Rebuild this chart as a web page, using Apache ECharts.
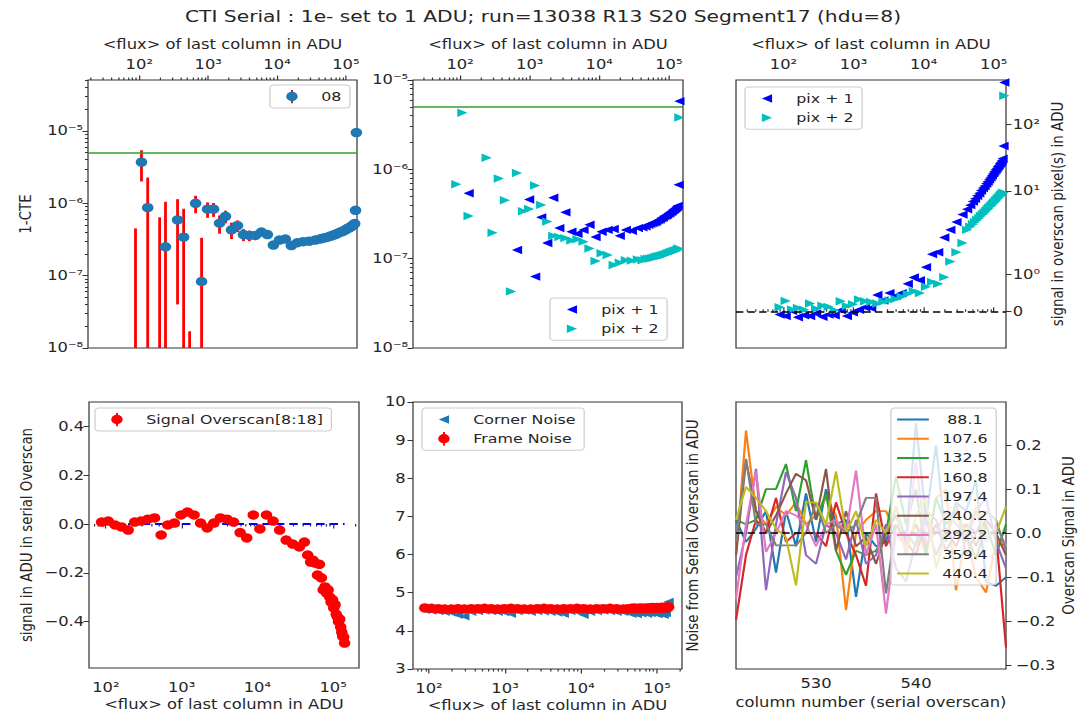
<!DOCTYPE html>
<html><head><meta charset="utf-8">
<script src="https://cdn.jsdelivr.net/npm/echarts@6/dist/echarts.min.js"></script>
<style>
html,body{margin:0;padding:0;background:#fff;overflow:hidden}
#wrap{width:1086px;height:714px;overflow:hidden;position:relative;background:#fff}
#chart{position:absolute;left:0;top:0;height:714px;transform-origin:0 0}
</style></head><body>
<div id="wrap"><div id="chart"></div></div>
<script>
// ---------------- DATA ----------------
const TITLE = 'CTI Serial : 1e- set to 1 ADU; run=13038 R13 S20 Segment17 (hdu=8)';
const FLUX = [88.1,107.6,132.5,160.8,197.4,240.2,292.2,359.4,440.4,538.1,
  657.3,802.8,980.6,1197.7,1462.9,1786.9,2182.6,2666.0,3256.4,3977.5,
  4858.4,5934.3,7248.5,8853.7,10814,13209,16134,19707,24071,29402,
  35913,41800,46300,50600,54200,58100,62300,66000,70200,74100,
  78300,82200,86100,90400,94200,98300,102100,106400,110200,114300,
  118100,122400,126200,130300,134100,138200,142000];
// 1-CTE of segment 08 and its error
const CTE_08 = [-1.0e-6,3.7e-6,8.7e-7,-1.5e-6,-4.0e-7,2.5e-7,-9.0e-7,5.9e-7,3.4e-7,-4.5e-7,
  1.0e-6,8.3e-8,8.3e-7,8.3e-7,5.3e-7,6.6e-7,4.3e-7,4.9e-7,3.7e-7,3.6e-7,
  3.6e-7,4.0e-7,3.7e-7,2.65e-7,3.1e-7,3.2e-7,2.6e-7,2.85e-7,2.95e-7,3.0e-7,
  3.1e-7,3.2e-7,3.3e-7,3.35e-7,3.4e-7,3.5e-7,3.55e-7,3.65e-7,3.7e-7,3.8e-7,
  3.9e-7,3.95e-7,4.05e-7,4.1e-7,4.2e-7,4.3e-7,4.4e-7,4.5e-7,4.55e-7,4.65e-7,
  4.75e-7,4.85e-7,4.95e-7,5.1e-7,5.25e-7,8.0e-7,9.5e-6];
const CTE_08_ERR = [1.45e-6,1.7e-6,1.4e-6,1.2e-6,1.04e-6,8.0e-7,6.0e-7,5.5e-7,5.0e-7,4.67e-7,
  2.7e-7,2.5e-7,2.0e-7,1.8e-7,1.5e-7,1.3e-7,1.1e-7,9e-8,7e-8,6e-8,
  5e-8,4e-8,3.5e-8,3e-8,2.5e-8,2e-8,1.8e-8,1.5e-8,1.3e-8,1.1e-8,
  1e-8,9e-9,8.5e-9,8e-9,7.5e-9,7e-9,7e-9,6.5e-9,6.5e-9,6e-9,
  6e-9,5.5e-9,5.5e-9,5e-9,5e-9,5e-9,4.5e-9,4.5e-9,4.5e-9,4e-9,
  4e-9,4e-9,4e-9,3.5e-9,3.5e-9,8e-9,2e-8];
const CTE_PIX1 = [null,null,5.4e-7,null,null,null,null,null,null,null,
  1.25e-7,null,4.6e-7,6.3e-8,2.9e-7,1.5e-7,4.8e-7,2.2e-7,3.3e-7,2.0e-7,
  1.9e-7,2.1e-7,2.4e-7,1.75e-7,2.0e-7,2.1e-7,2.15e-7,1.8e-7,2.1e-7,2.05e-7,
  2.2e-7,2.25e-7,2.3e-7,2.4e-7,2.45e-7,2.5e-7,2.55e-7,2.6e-7,2.7e-7,2.75e-7,
  2.85e-7,2.9e-7,3.0e-7,3.05e-7,3.1e-7,3.2e-7,3.25e-7,3.35e-7,3.4e-7,3.5e-7,
  3.55e-7,3.65e-7,3.7e-7,3.8e-7,3.9e-7,6.7e-7,5.8e-6];
const CTE_PIX2 = [6.8e-7,4.3e-6,3.0e-7,null,null,1.35e-6,1.95e-7,7.9e-7,4.5e-7,4.3e-8,
  9.1e-7,3.4e-7,3.6e-7,6.6e-7,4.0e-7,2.6e-7,1.8e-7,1.75e-7,1.7e-7,1.6e-7,
  1.65e-7,1.55e-7,1.3e-7,9.4e-8,1.15e-7,1.1e-7,8.5e-8,9.0e-8,9.6e-8,9.5e-8,
  9.8e-8,9.6e-8,9.9e-8,1.0e-7,1.0e-7,1.02e-7,1.03e-7,1.05e-7,1.06e-7,1.07e-7,
  1.08e-7,1.1e-7,1.1e-7,1.12e-7,1.13e-7,1.15e-7,1.16e-7,1.18e-7,1.19e-7,1.2e-7,
  1.21e-7,1.22e-7,1.23e-7,1.24e-7,1.26e-7,1.3e-7,3.8e-6];
// signal (ADU) in first / second overscan pixel
const SIG_PIX1 = [-0.08,-0.12,0.02,-0.15,-0.1,-0.12,-0.05,-0.14,-0.08,-0.1,
  0.04,-0.12,-0.02,0.05,0.12,0.1,0.45,0.3,0.5,0.42,
  0.5,0.75,0.92,0.85,1.2,1.55,1.6,2.0,2.6,3.4,
  4.4,5.3,6.1,6.9,7.6,8.4,9.2,10.1,11.0,11.8,
  12.9,13.8,14.9,16.0,17.1,18.3,19.4,20.7,21.8,23.1,
  24.2,25.6,26.8,28.1,30.2,47,420];
const SIG_PIX2 = [0.12,0.29,0.06,0.1,0.05,0.22,0.08,0.16,0.13,0.04,
  0.28,0.15,0.2,0.33,0.28,0.26,0.22,0.27,0.3,0.34,
  0.4,0.48,0.55,0.5,0.67,0.8,0.75,0.93,1.35,1.6,
  1.85,2.6,2.9,3.15,3.4,3.65,3.9,4.2,4.45,4.7,
  5.0,5.3,5.55,5.85,6.1,6.4,6.7,7.0,7.3,7.6,
  7.9,8.2,8.5,8.8,9.1,9.4,265];
const OVERSCAN_SIGNAL = [0.008,0.012,-0.004,-0.012,-0.025,0.008,0.012,0.02,0.025,-0.045,
  -0.004,0.004,0.037,0.049,0.037,0.004,-0.016,0.004,0.025,0.02,
  0.008,-0.035,-0.057,0.037,-0.02,0.037,0.012,-0.025,-0.066,-0.082,
  -0.094,-0.074,-0.127,-0.156,-0.148,-0.16,-0.209,-0.165,-0.221,-0.27,
  -0.258,-0.283,-0.27,-0.3,-0.32,-0.31,-0.344,-0.33,-0.37,-0.381,
  -0.4,-0.39,-0.422,-0.443,-0.46,-0.463,-0.488];
const ZERO_REF_FLUX = [197.4,142000];
const CORNER_NOISE = [4.55,4.53,4.52,4.50,4.48,4.42,4.38,4.50,4.52,4.53,
  4.52,4.50,4.49,4.45,4.52,4.53,4.50,4.52,4.51,4.50,
  4.48,4.45,4.52,4.50,4.42,4.50,4.52,4.53,4.52,4.50,
  4.50,4.48,4.45,4.47,4.44,4.50,4.46,4.52,4.48,4.45,
  4.50,4.47,4.52,4.49,4.46,4.50,4.44,4.48,4.52,4.45,
  4.50,4.42,4.55,4.47,4.62,4.70,4.76];
const FRAME_NOISE = [4.60,4.59,4.58,4.57,4.57,4.58,4.57,4.58,4.58,4.59,
  4.58,4.57,4.58,4.59,4.58,4.57,4.57,4.58,4.59,4.58,
  4.57,4.58,4.58,4.59,4.58,4.57,4.58,4.58,4.59,4.58,
  4.57,4.58,4.59,4.60,4.58,4.59,4.60,4.58,4.59,4.60,
  4.59,4.60,4.61,4.59,4.60,4.61,4.60,4.59,4.61,4.60,
  4.62,4.60,4.61,4.62,4.60,4.63,4.62];
const CTE_LIMIT = 5e-6;
// overscan profiles
const COLUMNS = [522,523,524,525,526,527,528,529,530,531,532,533,534,535,536,537,538,539,540,541,542,543,544,545,546,547,548,549];
const PROFILE_LABELS = ['\u00a088.1','107.6','132.5','160.8','197.4','240.2','292.2','359.4','440.4'];
const PROFILE_COLORS = ['#1f77b4','#ff7f0e','#2ca02c','#d62728','#9467bd','#8c564b','#e377c2','#7f7f7f','#bcbd22'];
const P_088 = [0.03,-0.02,0.01,0.05,-0.09,0.05,-0.03,0.09,-0.02,0.10,0.02,0.03,-0.145,0.00,-0.03,-0.02,0.06,-0.02,0.25,0.03,0.20,-0.02,0.07,0.05,0.12,-0.11,-0.12,-0.10];
const P_108 = [-0.05,0.233,0.05,0.02,0.06,0.04,0.07,0.02,0.04,0.08,0.04,-0.175,0.00,0.03,0.05,0.05,0.00,-0.03,0.02,-0.05,0.08,0.10,-0.13,0.00,-0.10,-0.135,-0.02,-0.03];
const P_133 = [0.03,0.02,0.03,0.10,0.10,0.157,0.05,0.166,0.03,0.09,-0.04,-0.095,-0.04,-0.05,-0.04,0.00,0.13,0.02,0.10,-0.05,0.08,0.02,0.05,0.00,-0.06,0.02,-0.05,0.02];
const P_161 = [-0.198,-0.05,0.03,0.00,0.08,-0.02,0.00,0.00,0.00,-0.03,0.07,0.00,-0.05,-0.12,0.09,-0.03,0.02,-0.02,-0.05,0.03,0.00,0.01,-0.03,0.02,0.00,0.03,0.00,-0.26];
const P_197 = [-0.10,0.00,0.146,-0.13,0.02,0.139,0.08,-0.05,-0.07,0.02,0.00,-0.06,0.03,-0.07,-0.05,0.02,-0.08,-0.11,-0.02,0.03,-0.05,0.00,0.05,-0.02,0.05,0.08,-0.02,-0.08];
const P_240 = [-0.05,0.165,0.05,0.00,0.04,0.09,0.135,0.12,0.03,0.146,-0.04,0.05,-0.03,-0.01,-0.07,0.00,0.04,-0.02,0.02,-0.03,0.02,-0.04,0.00,0.02,-0.03,0.03,0.00,-0.05];
const P_292 = [-0.15,0.02,0.14,-0.043,0.00,0.05,0.04,0.02,-0.03,0.02,0.03,0.00,0.142,-0.05,0.02,-0.183,0.00,-0.03,0.16,-0.02,0.00,0.05,0.02,0.00,0.05,-0.02,0.02,-0.03];
const P_359 = [-0.02,0.169,0.02,0.02,-0.028,-0.028,-0.028,0.00,0.07,0.00,0.02,0.00,0.02,0.08,0.08,-0.137,0.02,0.00,-0.03,0.05,0.03,-0.02,0.07,-0.05,0.00,0.05,0.03,-0.04];
const P_440 = [0.03,0.105,0.08,0.05,0.01,-0.01,-0.119,0.07,0.07,0.02,0.14,0.00,0.05,-0.03,0.03,0.00,0.06,-0.05,0.04,0.08,-0.08,0.00,0.04,0.00,0.06,-0.01,0.00,0.06];
const PROFILES = [P_088,P_108,P_133,P_161,P_197,P_240,P_292,P_359,P_440];
// tick values / axis ranges
const LOG_X_EXP = [2,3,4,5];
const CTE_Y_EXP = [-8,-7,-6,-5];
const SIG_Y_TICKS = [0,1,10,100];
const BL_Y_TICKS = [-0.4,-0.2,0,0.2,0.4];
const BM_Y_TICKS = [3,4,5,6,7,8,9,10];
const BR_X_TICKS = [530,540];
const BR_Y_TICKS = [-0.3,-0.2,-0.1,0,0.1,0.2];
const TL_X = [18,1.45e5], TM_X = [21,1.6e5], TR_X = [21,1.5e5], BL_X = [60,2.2e5], BM_X = [61.6,2.13e5];
const TL_Y = [1e-8,5.06e-5], TM_Y = [1e-8,1e-5], TR_Y = [-0.98,457], BL_Y = [-0.59,0.5], BM_Y = [3,10], BR_X = [522,549], BR_Y = [-0.309,0.298];

// ---------------- LAYOUT / STYLE ----------------
const S = 1.22;            // horizontal stretch of the reference
const W = 1086 / S;
const FS = 13.4, LFS = 13, TFS = 16.6;
const FONT = 'DejaVu Sans';
const TXT = '#262626', SPINE = '#333333';
const PANELS = {TL:[88,80,357,348], TM:[413,80,683,348], TR:[736,80,1006,348],
                BL:[89,402,359,668], BM:[413,402,682,669], BR:[736,402,1006,669]};
const FLUX_NAME = '<flux> of last column in ADU';
const LEFT_TRI = 'path://M0,5L10,0L10,10Z';
const RIGHT_TRI = 'path://M10,5L0,0L0,10Z';
const svgIcon = body => 'image://data:image/svg+xml;utf8,' + encodeURIComponent(
  '<svg xmlns="http://www.w3.org/2000/svg" width="14" height="14" viewBox="0 0 14 14">' + body + '</svg>');
const errIcon = (dot, bar) => svgIcon('<rect x="6.2" y="0" width="1.6" height="14" fill="' + bar + '"/>' +
  '<circle cx="7" cy="7" r="4.7" fill="' + dot + '"/>');
const triIcon = (color, left) => svgIcon('<polygon points="' + (left ? '2.8,7 11.2,2.8 11.2,11.2' : '11.2,7 2.8,2.8 2.8,11.2') +
  '" fill="' + color + '"/>');

const lg = Math.log10;
const SUPC = {'-':'\u207B','0':'\u2070','1':'\u00B9','2':'\u00B2','3':'\u00B3','4':'\u2074','5':'\u2075','6':'\u2076','7':'\u2077','8':'\u2078','9':'\u2079'};
const pow10Label = e => '10' + String(Math.round(e)).split('').map(c => SUPC[c]).join('');
const dec1 = v => (v < -1e-9 ? '\u2212' : '') + Math.abs(v).toFixed(1);
const LT = 2, LSC = 1 / (1 - 1 / 10);
const symlog = v => { const a = Math.abs(v); return a <= LT ? v * LSC : Math.sign(v) * LT * (LSC + lg(a / LT)); };
const symlogInv = t => { const a = Math.abs(t); return a <= LT * LSC ? t / LSC : Math.sign(t) * LT * Math.pow(10, a / LT - LSC); };
const symlogLabel = t => { const v = symlogInv(t); return Math.abs(v) < 1e-9 ? '0' : pow10Label(lg(v)); };
function minorLogs(lo, hi) { const out = []; for (let d = Math.floor(lo) - 1; d <= Math.ceil(hi); d++) for (let k = 2; k <= 9; k++) { const v = d + lg(k); if (v > lo && v < hi) out.push(v); } return out; }

function grid(p, show) { const [l,t,r,b] = PANELS[p]; return {left:l/S, top:t, width:(r-l)/S, height:b-t, show:show, borderColor:SPINE, borderWidth:1, backgroundColor:'rgba(0,0,0,0)', containLabel:false, outerBoundsMode:'none'}; }
function ax(gi, extra) { return Object.assign({gridIndex:gi, type:'value', splitLine:{show:false}, axisLine:{show:false}, axisTick:{show:false}, axisLabel:{show:false}, axisPointer:{show:false}}, extra); }
const tick = (vals, len) => ({show:true, customValues:vals, length:len, inside:false, lineStyle:{color:SPINE, width:1}});
const lab = (vals, fmt, margin) => ({show:true, customValues:vals, formatter:fmt, margin:margin, color:TXT, fontSize:FS, fontFamily:FONT});
const nm = (text, gap) => ({name:text, nameLocation:'middle', nameGap:gap, nameTextStyle:{color:TXT, fontSize:FS, fontFamily:FONT}});
const logR = r => ({min:lg(r[0]), max:lg(r[1])});

function legend(names, leftPx, topPx, extra) {
  return Object.assign({data:names, orient:'vertical', left:leftPx/S, top:topPx, padding:[4,7,4,5], itemGap:4.25,
    itemWidth:26, itemHeight:14, backgroundColor:'rgba(255,255,255,0.8)', borderColor:'#cccccc', borderWidth:1,
    borderRadius:3, selectedMode:false, z:10,
    formatter:n => '{sp|}' + n,
    textStyle:{color:TXT, fontSize:LFS, fontFamily:FONT, lineHeight:15, rich:{sp:{width:6, lineHeight:15}}}}, extra || {});
}
function logPairs(xs, ys) { const out = []; xs.forEach((x,i) => { const y = ys[i]; if (y != null && y > 0) out.push([lg(x), lg(y)]); }); return out; }
const hline = (y, color, type, width) => ({silent:true, symbol:['none','none'], label:{show:false}, animation:false,
  lineStyle:{color:color, type:type, width:width}, emphasis:{disabled:true}, data:[{yAxis:y}]});

// ---------------- AXES ----------------
const xAxis = [
  ax(0, Object.assign({position:'top', axisTick:tick(LOG_X_EXP,4.5), axisLabel:lab(LOG_X_EXP,pow10Label,9)}, logR(TL_X), nm(FLUX_NAME,29))),
  ax(1, Object.assign({position:'top', axisTick:tick(minorLogs(lg(TL_X[0]),lg(TL_X[1])),2.5)}, logR(TL_X))),
  ax(2, Object.assign({position:'top', axisTick:tick(LOG_X_EXP,4.5), axisLabel:lab(LOG_X_EXP,pow10Label,9)}, logR(TM_X), nm(FLUX_NAME,29))),
  ax(3, Object.assign({position:'top', axisTick:tick(minorLogs(lg(TM_X[0]),lg(TM_X[1])),2.5)}, logR(TM_X))),
  ax(4, Object.assign({position:'top', axisTick:tick(LOG_X_EXP,4.5), axisLabel:lab(LOG_X_EXP,pow10Label,9)}, logR(TR_X), nm(FLUX_NAME,29))),
  ax(5, Object.assign({position:'top', axisTick:tick(minorLogs(lg(TR_X[0]),lg(TR_X[1])),2.5)}, logR(TR_X))),
  ax(6, Object.assign({position:'bottom', axisTick:tick(LOG_X_EXP,4.5), axisLabel:lab(LOG_X_EXP,pow10Label,13)}, logR(BL_X), nm(FLUX_NAME,30))),
  ax(7, Object.assign({position:'bottom', axisTick:tick(minorLogs(lg(BL_X[0]),lg(BL_X[1])),2.5)}, logR(BL_X))),
  ax(8, Object.assign({position:'bottom', axisTick:tick(LOG_X_EXP,4.5), axisLabel:lab(LOG_X_EXP,pow10Label,13)}, logR(BM_X), nm(FLUX_NAME,30))),
  ax(9, Object.assign({position:'bottom', axisTick:tick(minorLogs(lg(BM_X[0]),lg(BM_X[1])),2.5)}, logR(BM_X))),
  ax(10, Object.assign({position:'bottom', min:BR_X[0], max:BR_X[1], axisTick:tick(BR_X_TICKS,4.5), axisLabel:lab(BR_X_TICKS,v=>String(v),8)}, nm('column number (serial overscan)',27)))
];
const yAxis = [
  ax(0, Object.assign({position:'left', axisTick:tick(CTE_Y_EXP,4.5), axisLabel:lab(CTE_Y_EXP,pow10Label,4)}, logR(TL_Y), nm('1-CTE',45))),
  ax(1, Object.assign({position:'left', axisTick:tick(minorLogs(lg(TL_Y[0]),lg(TL_Y[1])),2.5)}, logR(TL_Y))),
  ax(2, Object.assign({position:'left', axisTick:tick(CTE_Y_EXP,4.5), axisLabel:lab(CTE_Y_EXP,pow10Label,4)}, logR(TM_Y))),
  ax(3, Object.assign({position:'left', axisTick:tick(minorLogs(lg(TM_Y[0]),lg(TM_Y[1])),2.5)}, logR(TM_Y))),
  ax(4, Object.assign({position:'right', min:symlog(TR_Y[0]), max:symlog(TR_Y[1]), axisTick:tick(SIG_Y_TICKS.map(symlog),4.5), axisLabel:lab(SIG_Y_TICKS.map(symlog),symlogLabel,5.5)}, nm('signal in overscan pixel(s) in ADU',36))),
  ax(5, {position:'right', min:symlog(TR_Y[0]), max:symlog(TR_Y[1])}),
  ax(6, Object.assign({position:'left', min:BL_Y[0], max:BL_Y[1], axisTick:tick(BL_Y_TICKS,4.5), axisLabel:lab(BL_Y_TICKS,dec1,4)}, nm('signal in ADU in serial Overscan',45))),
  ax(7, {position:'left', min:BL_Y[0], max:BL_Y[1]}),
  ax(8, {position:'left', min:BM_Y[0], max:BM_Y[1], axisTick:tick(BM_Y_TICKS,4.5), axisLabel:lab(BM_Y_TICKS,v=>String(v),6)}),
  ax(9, Object.assign({position:'right', min:BM_Y[0], max:BM_Y[1]}, nm('Noise from Serial Overscan in ADU',2.5))),
  ax(10, Object.assign({position:'right', min:BR_Y[0], max:BR_Y[1], axisTick:tick(BR_Y_TICKS,4.5), axisLabel:lab(BR_Y_TICKS,dec1,8)}, nm('Overscan Signal in ADU',44)))
];

// ---------------- SERIES ----------------
const series = [];
// top-left: 1-CTE with error bars
const errData = [];
FLUX.forEach((f,i) => { const v = CTE_08[i], e = CTE_08_ERR[i]; const hi = Math.min(v + e, TL_Y[1]), lo = Math.max(v - e, TL_Y[0]);
  if (hi > TL_Y[0]) errData.push([lg(f), lg(lo), lg(hi)]); });
series.push({type:'custom', name:'08 err', xAxisIndex:0, yAxisIndex:0, silent:true, z:2, encode:{x:0, y:[1,2]},
  renderItem:(params, api) => { const a = api.coord([api.value(0), api.value(1)]), b = api.coord([api.value(0), api.value(2)]);
    return {type:'line', shape:{x1:a[0], y1:a[1], x2:b[0], y2:b[1]}, style:{stroke:'#ff0000', lineWidth:2.3}}; },
  data:errData});
series.push({type:'scatter', name:'08', xAxisIndex:0, yAxisIndex:0, z:3, symbol:'circle', symbolSize:9.5,
  itemStyle:{color:'#1f77b4', opacity:1}, emphasis:{disabled:true}, data:logPairs(FLUX, CTE_08),
  markLine:hline(lg(CTE_LIMIT), '#2ca02c', 'solid', 1.6)});
// top-middle: 1-CTE per pixel
series.push({type:'scatter', name:'pix + 1', xAxisIndex:2, yAxisIndex:2, symbol:LEFT_TRI, symbolKeepAspect:true, symbolSize:8.4,
  itemStyle:{color:'#0000ff', opacity:1}, emphasis:{disabled:true}, data:logPairs(FLUX, CTE_PIX1)});
series.push({type:'scatter', name:'pix + 2', xAxisIndex:2, yAxisIndex:2, symbol:RIGHT_TRI, symbolKeepAspect:true, symbolSize:8.4,
  itemStyle:{color:'#00bfbf', opacity:1}, emphasis:{disabled:true}, data:logPairs(FLUX, CTE_PIX2),
  markLine:hline(lg(CTE_LIMIT), '#2ca02c', 'solid', 1.6)});
// top-right: signal in overscan pixels (symlog)
series.push({type:'scatter', name:'pix + 1', xAxisIndex:4, yAxisIndex:4, symbol:LEFT_TRI, symbolKeepAspect:true, symbolSize:8.4,
  itemStyle:{color:'#0000ff', opacity:1}, emphasis:{disabled:true}, data:FLUX.map((f,i) => [lg(f), symlog(SIG_PIX1[i])])});
series.push({type:'scatter', name:'pix + 2', xAxisIndex:4, yAxisIndex:4, symbol:RIGHT_TRI, symbolKeepAspect:true, symbolSize:8.4,
  itemStyle:{color:'#00bfbf', opacity:1}, emphasis:{disabled:true}, data:FLUX.map((f,i) => [lg(f), symlog(SIG_PIX2[i])]),
  markLine:hline(symlog(0), '#000000', [6,3.5], 1.6)});
// bottom-left: overscan signal
series.push({type:'line', name:'zero ref', xAxisIndex:6, yAxisIndex:6, z:1, silent:true, symbol:'none',
  lineStyle:{color:'#0000ff', width:2, type:[7,4]}, data:ZERO_REF_FLUX.map(f => [lg(f), 0])});
series.push({type:'scatter', name:'Signal Overscan[8:18]', xAxisIndex:6, yAxisIndex:6, z:3, symbol:'circle', symbolSize:9.5,
  itemStyle:{color:'#ff0000', opacity:1}, emphasis:{disabled:true}, data:FLUX.map((f,i) => [lg(f), OVERSCAN_SIGNAL[i]])});
// bottom-middle: noise
series.push({type:'scatter', name:'Corner Noise', xAxisIndex:8, yAxisIndex:8, symbol:LEFT_TRI, symbolKeepAspect:true, symbolSize:8.4,
  itemStyle:{color:'#1f77b4', opacity:1}, emphasis:{disabled:true}, data:FLUX.map((f,i) => [lg(f), CORNER_NOISE[i]])});
series.push({type:'scatter', name:'Frame Noise', xAxisIndex:8, yAxisIndex:8, symbol:'circle', symbolSize:9.5,
  itemStyle:{color:'#ff0000', opacity:1}, emphasis:{disabled:true}, data:FLUX.map((f,i) => [lg(f), FRAME_NOISE[i]])});
// bottom-right: overscan profiles
PROFILES.forEach((p, k) => {
  const s = {type:'line', name:PROFILE_LABELS[k], xAxisIndex:10, yAxisIndex:10, symbol:'none', showSymbol:false, silent:true,
    lineStyle:{color:PROFILE_COLORS[k], width:1.8}, itemStyle:{color:PROFILE_COLORS[k]}, emphasis:{disabled:true},
    data:COLUMNS.map((c,i) => [c, p[i]])};
  if (k === PROFILES.length - 1) s.markLine = hline(0, '#000000', [6,3.5], 1.6);
  series.push(s);
});

const option = {
  animation:false,
  backgroundColor:'#ffffff',
  textStyle:{fontFamily:FONT},
  title:{text:TITLE, left:'center', top:8, padding:0, textStyle:{fontSize:TFS, fontWeight:'normal', color:TXT, fontFamily:FONT}},
  grid:[grid('TL',true), grid('TL',false), grid('TM',true), grid('TM',false), grid('TR',true), grid('TR',false),
        grid('BL',true), grid('BL',false), grid('BM',true), grid('BM',false), grid('BR',true)],
  xAxis:xAxis, yAxis:yAxis,
  legend:[
    legend([{name:'08', icon:errIcon('#1f77b4','#ff0000')}], 270, 85),
    legend([{name:'pix + 1', icon:triIcon('#0000ff',true)},{name:'pix + 2', icon:triIcon('#00bfbf',false)}], 550, 298),
    legend([{name:'pix + 1', icon:triIcon('#0000ff',true)},{name:'pix + 2', icon:triIcon('#00bfbf',false)}], 745, 87),
    legend([{name:'Signal Overscan[8:18]', icon:errIcon('#ff0000','#ff0000')}], 95, 408),
    legend([{name:'Corner Noise', icon:triIcon('#1f77b4',true)},{name:'Frame Noise', icon:errIcon('#ff0000','#ff0000')}], 422, 408),
    legend(PROFILE_LABELS.map(n => ({name:n, icon:'rect'})), 891, 408, {itemHeight:2})
  ],
  series:series
};

const el = document.getElementById('chart');
el.style.width = W + 'px';
el.style.transform = 'scaleX(' + S + ')';
const chart = echarts.init(el, null, {renderer:'svg', width:W, height:714});
chart.setOption(option);
</script>
</body></html>
